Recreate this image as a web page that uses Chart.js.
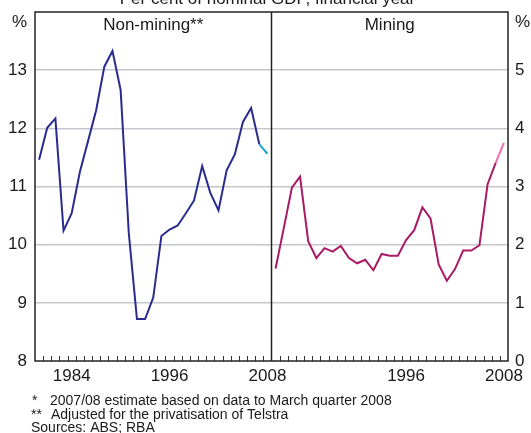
<!DOCTYPE html>
<html><head><meta charset="utf-8">
<script src="https://cdn.jsdelivr.net/npm/chart.js@4/dist/chart.umd.min.js"></script>
<style>html,body{margin:0;padding:0;background:#fff;}canvas{display:block;}</style>
</head><body>
<canvas id="c" width="531" height="433"></canvas>
<script>
// Financial years (year-ending), 1979/80 .. 2007/08
const years = [1980,1981,1982,1983,1984,1985,1986,1987,1988,1989,1990,1991,1992,1993,1994,1995,1996,1997,1998,1999,2000,2001,2002,2003,2004,2005,2006,2007,2008];
// Per cent of nominal GDP
const nonMining = [11.46,12.01,12.17,10.24,10.54,11.25,11.78,12.31,13.06,13.33,12.66,10.2,8.72,8.72,9.09,10.15,10.26,10.33,10.54,10.76,11.35,10.89,10.59,11.28,11.55,12.11,12.35,11.73,11.56];
const mining = [1.59,2.28,2.98,3.17,2.06,1.77,1.94,1.88,1.98,1.77,1.68,1.74,1.56,1.84,1.81,1.81,2.08,2.25,2.64,2.45,1.66,1.38,1.58,1.90,1.90,1.99,3.04,3.41,3.75];
const leftTickLabels = ['1984','1996','2008'];
const rightTickLabels = ['1996','2008'];
const titleText = 'Per cent of nominal GDP, financial year';
const panelTitles = ['Non-mining**','Mining'];
const footnotes = ['*','2007/08 estimate based on data to March quarter 2008','**','Adjusted for the privatisation of Telstra','Sources: ABS; RBA'];

const n = years.length;
const labels = years.map(String).concat(years.map(String));
const nonMiningData = nonMining.concat(new Array(n).fill(null));
const miningData = new Array(n).fill(null).concat(mining);

const FONT = "'Liberation Sans', Arial, Helvetica, sans-serif";
const TXT = '#1a1a1a';
const NAVY = '#2a2b8f', CYAN = '#1aa3c9', MAGENTA = '#a81b66', PINK = '#ee6fae';

const decor = {
  id: 'decor',
  afterDraw(chart) {
    const ctx = chart.ctx;
    const {left, right, top, bottom} = chart.chartArea;
    const xs = chart.scales.x;
    const mid = (xs.getPixelForValue(n - 1) + xs.getPixelForValue(n)) / 2;
    ctx.save();
    // tick marks
    ctx.strokeStyle = '#333'; ctx.lineWidth = 1;
    for (let i = 0; i < 2 * n - 1; i++) {
      if (i === n - 1) continue;
      const bx = Math.round((xs.getPixelForValue(i) + xs.getPixelForValue(i + 1)) / 2) + 0.5;
      ctx.beginPath(); ctx.moveTo(bx, bottom); ctx.lineTo(bx, bottom - 5); ctx.stroke();
    }
    // frame and divider
    ctx.strokeStyle = '#222'; ctx.lineWidth = 1.5;
    ctx.strokeRect(left, top, right - left, bottom - top);
    ctx.beginPath(); ctx.moveTo(mid, top); ctx.lineTo(mid, bottom); ctx.stroke();
    // texts
    ctx.fillStyle = TXT;
    ctx.font = '17px ' + FONT;
    ctx.textAlign = 'center'; ctx.textBaseline = 'alphabetic';
    ctx.fillText(titleText, (left + right) / 2 - 4, 4);
    ctx.fillText(panelTitles[0], (left + mid) / 2, 30);
    ctx.fillText(panelTitles[1], (mid + right) / 2, 30);
    ctx.textAlign = 'right';
    ctx.fillText('%', left - 8, 27);
    ctx.textAlign = 'left';
    ctx.fillText('%', right + 7, 27);
    ctx.font = '14px ' + FONT;
    ctx.fillText(footnotes[0], 32, 405);
    ctx.fillText(footnotes[1], 50, 405);
    ctx.fillText(footnotes[2], 31, 419);
    ctx.fillText(footnotes[3], 51, 419);
    ctx.fillText(footnotes[4], 31, 432);
    ctx.restore();
  }
};

const noPad = s => { s.paddingTop = 0; s.paddingBottom = 0; };

new Chart(document.getElementById('c'), {
  type: 'line',
  data: {
    labels: labels,
    datasets: [
      { label: 'Non-mining', data: nonMiningData, yAxisID: 'yL', borderColor: NAVY, borderWidth: 2,
        pointRadius: 0, tension: 0, spanGaps: false,
        segment: { borderColor: c => c.p1DataIndex === n - 1 ? CYAN : undefined } },
      { label: 'Mining', data: miningData, yAxisID: 'yR', borderColor: MAGENTA, borderWidth: 2,
        pointRadius: 0, tension: 0, spanGaps: false,
        segment: { borderColor: c => c.p1DataIndex === 2 * n - 1 ? PINK : undefined } }
    ]
  },
  options: {
    responsive: false, animation: false, devicePixelRatio: 1,
    layout: { padding: { top: 12, left: 0, right: 0, bottom: 0 } },
    plugins: { legend: { display: false }, tooltip: { enabled: false }, title: { display: false } },
    scales: {
      x: {
        type: 'category', offset: true,
        grid: { display: false, drawTicks: false }, border: { display: false },
        afterFit: s => { s.height = 72; s.paddingLeft = 0; s.paddingRight = 0; },
        ticks: {
          autoSkip: false, maxRotation: 0, minRotation: 0, padding: 5, color: TXT,
          font: { family: FONT, size: 17 },
          callback: function (v, i) {
            const lab = labels[i];
            if (i < n) return leftTickLabels.includes(lab) ? lab : '';
            return rightTickLabels.includes(lab) ? lab : '';
          }
        }
      },
      yL: {
        position: 'left', min: 8, max: 14,
        afterFit: s => { s.width = 35; noPad(s); },
        border: { display: false },
        grid: { drawTicks: false, lineWidth: 1.5,
          color: c => (c.tick && (c.tick.value === 8 || c.tick.value === 14)) ? 'rgba(0,0,0,0)' : '#c5c7cd' },
        ticks: { stepSize: 1, padding: 8, color: TXT, font: { family: FONT, size: 17 },
          callback: v => v === 14 ? '' : String(v) }
      },
      yR: {
        position: 'right', min: 0, max: 6,
        afterFit: s => { s.width = 23; noPad(s); },
        border: { display: false },
        grid: { display: false, drawTicks: false },
        ticks: { stepSize: 1, padding: 7, color: TXT, font: { family: FONT, size: 17 },
          callback: v => v === 6 ? '' : String(v) }
      }
    }
  },
  plugins: [decor]
});
</script>
</body></html>
